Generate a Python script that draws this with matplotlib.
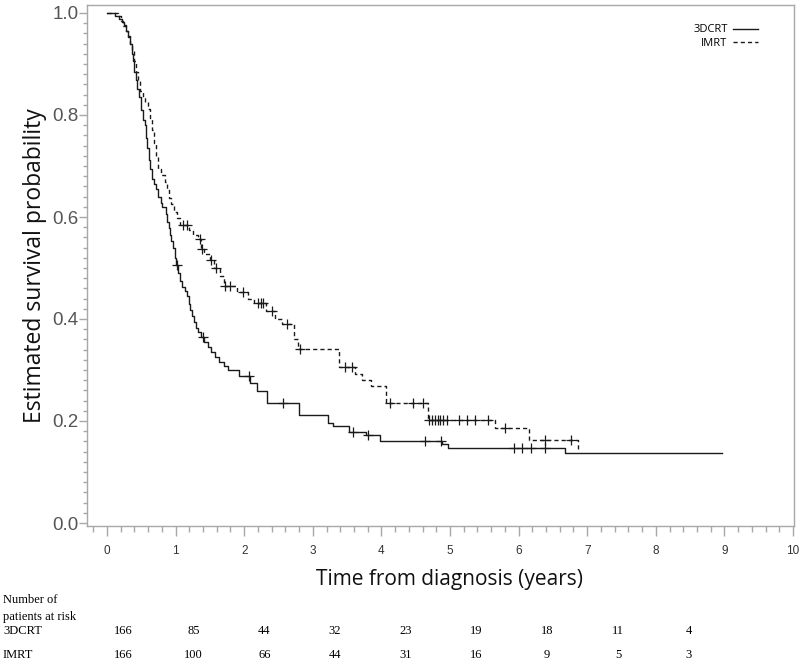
import numpy as np
import matplotlib
matplotlib.use("Agg")
import matplotlib.pyplot as plt
from matplotlib.ticker import MultipleLocator

# ---------------- data ----------------
t_3dcrt = [0, 0.12, 0.18, 0.22, 0.25, 0.28, 0.30, 0.33, 0.36, 0.38, 0.40, 0.42, 0.44,
           0.47, 0.50, 0.52, 0.55, 0.57, 0.59, 0.61, 0.63, 0.66, 0.69, 0.72, 0.75, 0.78,
           0.80, 0.86, 0.88, 0.90, 0.92, 0.94, 0.96, 0.99, 1.01, 1.04, 1.07, 1.10, 1.13,
           1.16, 1.19, 1.21, 1.24, 1.27, 1.30, 1.33, 1.37, 1.42, 1.47, 1.52, 1.57, 1.63,
           1.70, 1.76, 1.93, 2.08, 2.18, 2.33, 2.80, 3.22, 3.30, 3.53, 3.78, 3.98, 4.89,
           4.97, 6.67, 8.97]
s_3dcrt = [1.0, 0.994, 0.988, 0.982, 0.976, 0.964, 0.952, 0.94, 0.92, 0.905, 0.885, 0.868,
           0.85, 0.835, 0.81, 0.79, 0.78, 0.755, 0.735, 0.712, 0.695, 0.675, 0.665, 0.655,
           0.64, 0.628, 0.62, 0.605, 0.59, 0.578, 0.565, 0.553, 0.54, 0.52, 0.505, 0.49,
           0.475, 0.462, 0.455, 0.445, 0.43, 0.418, 0.405, 0.395, 0.383, 0.375, 0.365,
           0.355, 0.345, 0.335, 0.325, 0.316, 0.308, 0.30, 0.288, 0.275, 0.258, 0.235,
           0.212, 0.196, 0.19, 0.178, 0.172, 0.161, 0.155, 0.147, 0.137, 0.137]
cens_3dcrt = [1.02, 1.40, 2.07, 2.57, 3.58, 3.80, 4.64, 4.87, 5.94, 6.05, 6.18, 6.39]

t_imrt = [0, 0.16, 0.20, 0.24, 0.27, 0.30, 0.33, 0.36, 0.39, 0.42, 0.45, 0.48, 0.52, 0.56,
          0.60, 0.62, 0.65, 0.68, 0.71, 0.74, 0.79, 0.84, 0.87, 0.90, 0.93, 0.97, 1.02,
          1.07, 1.20, 1.25, 1.32, 1.37, 1.42, 1.50, 1.56, 1.65, 1.70, 1.90, 2.05, 2.14,
          2.32, 2.45, 2.55, 2.72, 2.78, 3.38, 3.62, 3.72, 3.85, 4.06, 4.68, 5.65, 6.15,
          6.87]
s_imrt = [1.0, 0.994, 0.985, 0.975, 0.965, 0.955, 0.94, 0.925, 0.905, 0.885, 0.866, 0.848,
          0.835, 0.825, 0.812, 0.795, 0.77, 0.745, 0.718, 0.695, 0.682, 0.668, 0.652, 0.638,
          0.625, 0.61, 0.598, 0.585, 0.575, 0.565, 0.556, 0.538, 0.528, 0.515, 0.50, 0.485,
          0.465, 0.452, 0.44, 0.432, 0.415, 0.40, 0.39, 0.36, 0.341, 0.305, 0.292, 0.28,
          0.268, 0.235, 0.202, 0.186, 0.163, 0.14]
cens_imrt = [1.11, 1.17, 1.36, 1.38, 1.52, 1.59, 1.72, 1.79, 1.98, 2.20, 2.25, 2.27, 2.40,
             2.62, 2.81, 3.47, 3.57, 4.13, 4.46, 4.61, 4.70, 4.74, 4.78, 4.82, 4.86, 4.90,
             4.95, 5.13, 5.25, 5.36, 5.56, 5.80, 6.38, 6.76]

groups = ["3DCRT", "IMRT"]
risk_3dcrt = [166, 85, 44, 32, 23, 19, 18, 11, 4]
risk_imrt = [166, 100, 66, 44, 31, 16, 9, 5, 3]

x_ticks = list(range(0, 11))
y_ticks = [0.0, 0.2, 0.4, 0.6, 0.8, 1.0]


def surv_at(t, s, c):
    t = np.asarray(t); s = np.asarray(s)
    idx = np.searchsorted(t, c, side="right") - 1
    return s[idx]


# ---------------- figure ----------------
W, H = 800, 666
fig = plt.figure(figsize=(W / 100, H / 100), dpi=100)
ax = fig.add_axes([87 / W, 1 - 526 / H, (794 - 87) / W, (526 - 5) / H])

col = "#1a1a1a"
ax.step(t_3dcrt, s_3dcrt, where="post", color=col, lw=1.0, label="3DCRT")
ax.step(t_imrt, s_imrt, where="post", color=col, lw=1.0, linestyle=(0, (3, 2.2)),
        label="IMRT")
ax.plot(cens_3dcrt, surv_at(t_3dcrt, s_3dcrt, cens_3dcrt), "+", color=col, ms=7, mew=0.9)
ax.plot(cens_imrt, surv_at(t_imrt, s_imrt, cens_imrt), "+", color=col, ms=7, mew=0.9)

ax.set_xlim(-20 / 68.6, 10 + 1 / 68.6)
ax.set_ylim(-3 / 510, 1 + 8 / 510)

gray = "#a8a8a8"
for sp in ax.spines.values():
    sp.set_color(gray)
    sp.set_linewidth(1.0)

ax.set_xticks(x_ticks)
ax.set_yticks(y_ticks)
ax.xaxis.set_minor_locator(MultipleLocator(0.2))
ax.yaxis.set_minor_locator(MultipleLocator(0.02))
ax.tick_params(axis="both", which="both", direction="out", color=gray)
ax.tick_params(axis="x", which="major", length=7, width=1, pad=7,
               labelsize=8.5, labelcolor="#333333")
ax.tick_params(axis="x", which="minor", length=4, width=1)
ax.tick_params(axis="y", which="major", length=6, width=1, pad=0,
               labelsize=13.5, labelcolor="#555555")
ax.tick_params(axis="y", which="minor", length=3, width=1)
ax.set_xticklabels([str(v) for v in x_ticks], family="Liberation Sans")
ax.set_yticklabels([f"{v:.1f}" for v in y_ticks], family="Liberation Sans")

fig.text(35 / W, 1 - 266 / H, "Estimated survival probability", rotation=90,
         ha="center", va="center", fontsize=16.5, family="Open Sans", color="#111111")
fig.text(450 / W, 1 - 580 / H, "Time from diagnosis (years)", ha="center", va="center",
         fontsize=15, family="Open Sans", color="#111111")

leg = ax.legend(loc="upper right", bbox_to_anchor=(1 - 32 / 707, 1 - 15 / 521),
                frameon=False, markerfirst=False, fontsize=8, handlelength=2.2,
                handletextpad=0.5, labelspacing=0.25, borderaxespad=0)
for txt in leg.get_texts():
    txt.set_family("Open Sans")

# risk table
serif = "Liberation Serif"
fig.text(3 / W, 1 - 600 / H, "Number of", ha="left", va="center", fontsize=9,
         family=serif)
fig.text(3 / W, 1 - 617 / H, "patients at risk", ha="left", va="center", fontsize=9,
         family=serif)
rows = [(groups[0], risk_3dcrt, 631), (groups[1], risk_imrt, 655)]
for name, vals, py in rows:
    fig.text(3 / W, 1 - py / H, name, ha="left", va="center", fontsize=9, family=serif)
    for i, v in enumerate(vals):
        fig.text((123 + 70.7 * i) / W, 1 - py / H, str(v), ha="center", va="center",
                 fontsize=9, family=serif)

fig.savefig("out.png", dpi=100)
